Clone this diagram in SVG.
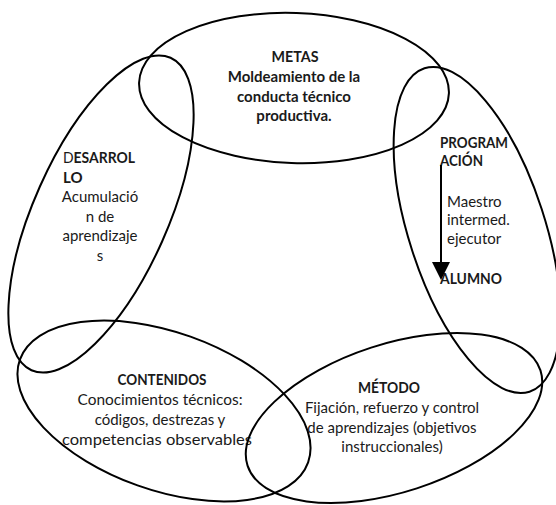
<svg xmlns="http://www.w3.org/2000/svg" width="556" height="505" viewBox="0 0 556 505">
<style>
.shape{fill:none;stroke:#000;stroke-width:2}
text{font-family:Lato,"Liberation Sans",sans-serif;font-size:15px;fill:#1a1a1a}
.b{font-weight:bold}
.c{text-anchor:middle}
</style>
<defs>
<marker id="arrow" markerUnits="userSpaceOnUse" markerWidth="18" markerHeight="18" refX="0" refY="9" orient="auto">
<path d="M0,0 L18,9 L0,18 z" fill="#000"/>
</marker>
</defs>
<rect width="556" height="505" fill="#fff"/>
<g id="metas">
<ellipse class="shape" cx="294" cy="88" rx="155" ry="75" transform="rotate(2 294 88)"/>
<text class="c b" x="295" y="62" textLength="47" lengthAdjust="spacingAndGlyphs">METAS</text>
<text class="c b" x="294" y="82">Moldeamiento de la</text>
<text class="c b" x="294" y="102">conducta técnico</text>
<text class="c b" x="294" y="121">productiva.</text>
</g>
<g id="desarrollo">
<ellipse class="shape" cx="101" cy="214" rx="67" ry="171" transform="rotate(24 101 214)"/>
<text x="63" y="163" textLength="72" lengthAdjust="spacingAndGlyphs">D<tspan class="b">ESARROL</tspan></text>
<text class="b" x="63" y="183">LO</text>
<text class="c" x="100" y="202">Acumulació</text>
<text class="c" x="100" y="222">n de</text>
<text class="c" x="100" y="241">aprendizaje</text>
<text class="c" x="100" y="261">s</text>
</g>
<g id="programacion">
<ellipse class="shape" cx="477" cy="230" rx="68" ry="170" transform="rotate(-18 477 230)"/>
<text class="b" x="440" y="148" textLength="68" lengthAdjust="spacingAndGlyphs">PROGRAM</text>
<text class="b" x="440" y="166" textLength="43" lengthAdjust="spacingAndGlyphs">ACIÓN</text>
<text x="447" y="207">Maestro</text>
<text x="447" y="225">intermed.</text>
<text x="447" y="244">ejecutor</text>
<text class="b" x="440" y="284" textLength="62" lengthAdjust="spacingAndGlyphs">ALUMNO</text>
</g>
<g id="contenidos">
<ellipse class="shape" cx="164" cy="411" rx="153" ry="79" transform="rotate(19.6 164 411)"/>
<text class="c b" x="162" y="385" textLength="89" lengthAdjust="spacingAndGlyphs">CONTENIDOS</text>
<text class="c" x="160" y="405" textLength="165" lengthAdjust="spacingAndGlyphs">Conocimientos técnicos:</text>
<text class="c" x="160" y="425">códigos, destrezas y</text>
<text class="c" x="157" y="445" textLength="190" lengthAdjust="spacingAndGlyphs">competencias observables</text>
</g>
<g id="metodo">
<ellipse class="shape" cx="394" cy="418" rx="154" ry="74" transform="rotate(-18 394 418)"/>
<text class="c b" x="389" y="393" textLength="62" lengthAdjust="spacingAndGlyphs">MÉTODO</text>
<text class="c" x="392" y="413">Fijación, refuerzo y control</text>
<text class="c" x="392" y="433">de aprendizajes (objetivos</text>
<text class="c" x="392" y="452">instruccionales)</text>
</g>
<g id="connectors">
<line x1="441" y1="165" x2="441" y2="262" stroke="#000" stroke-width="2" marker-end="url(#arrow)"/>
</g>
</svg>
